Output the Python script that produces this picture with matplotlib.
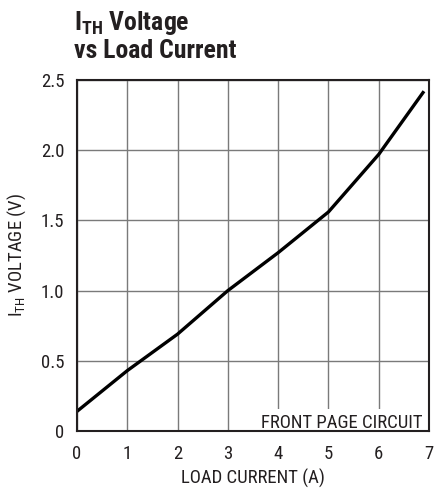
import matplotlib
matplotlib.use("Agg")
import matplotlib.pyplot as plt
from matplotlib import font_manager

fams = set(f.name for f in font_manager.fontManager.ttflist)
font = 'Liberation Sans'
for cand in ['Roboto Condensed', 'Liberation Sans Narrow', 'Archivo Narrow', 'Barlow Condensed']:
    if cand in fams:
        font = cand
        break
plt.rcParams['font.family'] = [font, 'DejaVu Sans']
plt.rcParams['mathtext.fontset'] = 'custom'
plt.rcParams['mathtext.rm'] = font
plt.rcParams['mathtext.bf'] = font + ':bold'

# Data
load_current = [0, 1, 2, 3, 4, 5, 6, 6.9]
ith_voltage = [0.14, 0.43, 0.69, 1.0, 1.27, 1.56, 1.97, 2.42]
xticks = [0, 1, 2, 3, 4, 5, 6, 7]
yticks = [0, 0.5, 1.0, 1.5, 2.0, 2.5]
ytick_labels = ['0', '0.5', '1.0', '1.5', '2.0', '2.5']

TXT = '#231f20'
FS = 13.5

fig = plt.figure(figsize=(4.37, 4.94), dpi=100)
ax = fig.add_axes([77/437, 1-431/494, (429-77)/437, (431-80)/494])

ax.set_xlim(0, 7)
ax.set_ylim(0, 2.5)
ax.set_xticks(xticks)
ax.set_yticks(yticks)
ax.set_yticklabels(ytick_labels)
ax.tick_params(axis='x', length=0, labelsize=FS, pad=10, colors=TXT)
ax.tick_params(axis='y', length=0, labelsize=FS, pad=9, colors=TXT)
ax.grid(True, color='#7a7a7a', linewidth=1.0)
ax.set_axisbelow(True)
for s in ax.spines.values():
    s.set_color(TXT)
    s.set_linewidth(1.5)
    s.set_zorder(6)

ax.plot(load_current, ith_voltage, color='black', linewidth=2.4, solid_capstyle='butt', zorder=3)

ax.text(6.88, 0.02, 'FRONT PAGE CIRCUIT', ha='right', va='baseline', fontsize=FS,
        color=TXT, zorder=4,
        bbox=dict(facecolor='white', edgecolor='none', pad=3.5))

ax.set_xlabel('LOAD CURRENT (A)', fontsize=FS, color=TXT, labelpad=4.5)
ax.set_ylabel(r'I$_{\mathregular{TH}}$ VOLTAGE (V)', fontsize=FS, color=TXT, labelpad=9)

fig.text(74/437, 1-30/494, r'I$_{\mathbf{TH}}$ Voltage', fontsize=18.5, fontweight='bold',
         color=TXT, ha='left', va='baseline')
fig.text(74/437, 1-58/494, 'vs Load Current', fontsize=18.5, fontweight='bold',
         color=TXT, ha='left', va='baseline')

fig.savefig('out.png', dpi=100)
